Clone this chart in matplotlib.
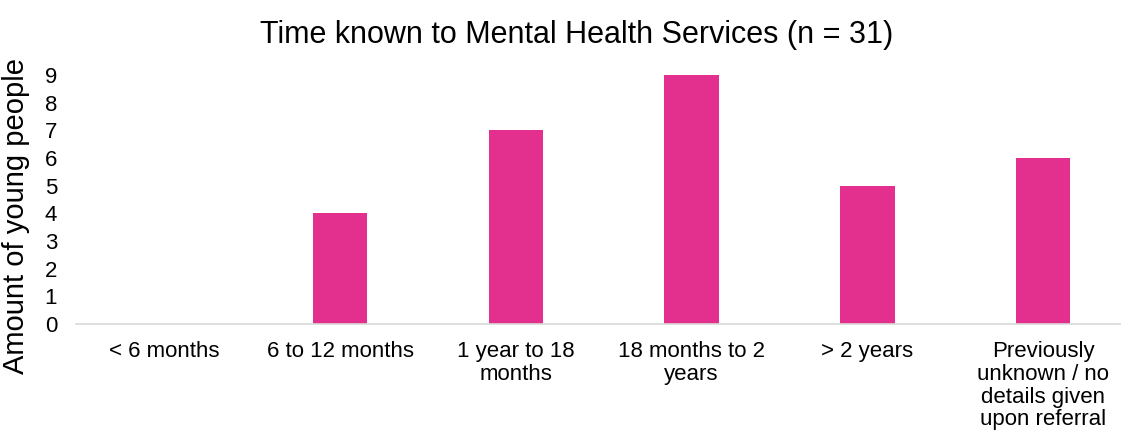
import numpy as np
import matplotlib.pyplot as plt

plt.rcParams['font.family'] = ['Liberation Sans', 'DejaVu Sans']

categories = ["< 6 months", "6 to 12 months", "1 year to 18\nmonths",
              "18 months to 2\nyears", "> 2 years",
              "Previously\nunknown / no\ndetails given\nupon referral"]
counts = [0, 4, 7, 9, 5, 6]

# plot area runs slightly past the right edge of the figure
left, right, bottom, top = 76.5, 1131, 324, 75
fig = plt.figure(figsize=(11.21, 4.48), dpi=100)
ax = fig.add_axes([left / 1121, 1 - bottom / 448, (right - left) / 1121, (bottom - top) / 448])

x = np.arange(len(categories))
ax.bar(x, counts, width=0.31, color='#E3308F')

ax.set_xlim(-0.5, len(categories) - 0.5)
ax.set_ylim(0, 9)
ax.set_yticks(range(0, 10))
ax.set_xticks(x)
ax.set_xticklabels(categories, fontsize=16, color='#000000', linespacing=1.12)
ax.tick_params(axis='y', labelsize=16, length=0, pad=14)
ax.tick_params(axis='x', length=0, pad=12)

for s in ['top', 'right', 'left']:
    ax.spines[s].set_visible(False)
ax.spines['bottom'].set_color('#D9D9D9')
ax.spines['bottom'].set_linewidth(1.2)

ax.set_ylabel("Amount of young people", fontsize=21)
ax.yaxis.set_label_coords(-46 / (right - left), (bottom - 216) / (bottom - top))
fig.text(577 / 1121, 1 - 35 / 448, "Time known to Mental Health Services (n = 31)",
         ha='center', va='center', fontsize=22)

fig.savefig('out.png', dpi=100)
